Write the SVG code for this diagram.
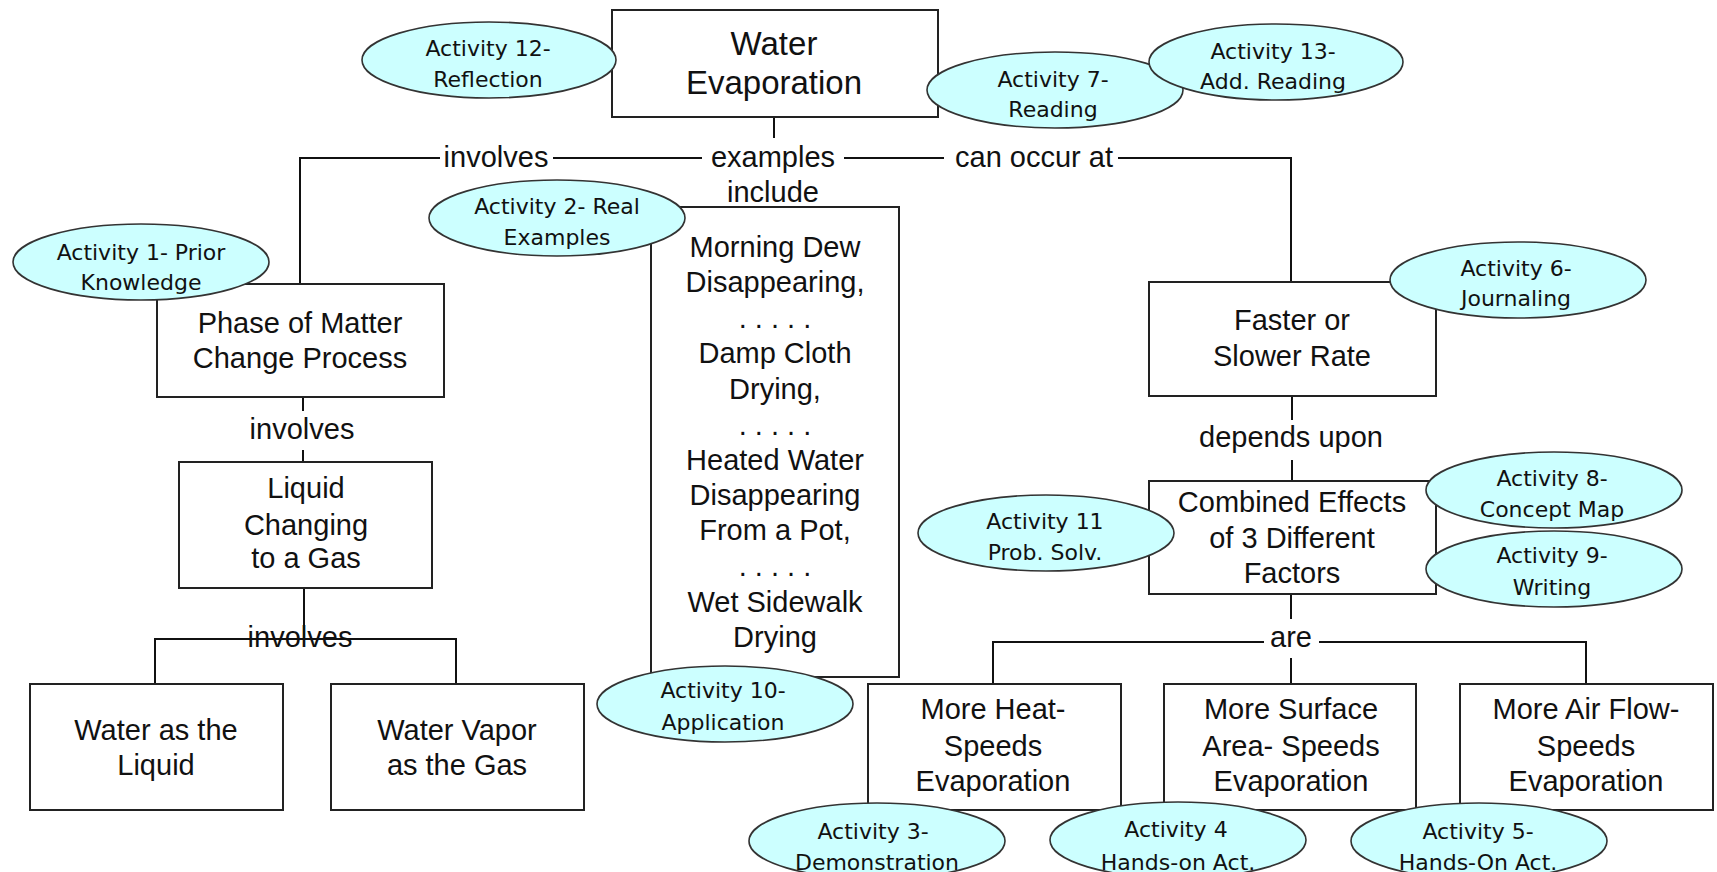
<svg xmlns="http://www.w3.org/2000/svg" width="1717" height="872" viewBox="0 0 1717 872">
<style>
.box{fill:#fff;stroke:#222;stroke-width:2}
.act{fill:#ccffff;stroke:#333;stroke-width:1.6}
.t{font-family:"Liberation Sans",Arial,sans-serif;font-size:29px;fill:#111;text-anchor:middle}
.ttl{font-family:"Liberation Sans",Arial,sans-serif;font-size:33px;fill:#111;text-anchor:middle}
.a{font-family:"DejaVu Sans",sans-serif;font-size:22px;fill:#111;text-anchor:middle}
.ln{stroke:#111;stroke-width:2;fill:none}
</style>
<rect width="1717" height="872" fill="#fff"/>
<g id="connectors">
<path class="ln" d="M774 117V138"/>
<path class="ln" d="M300 284V158H440M553 158H702M844 158H944M1118 158H1291V282"/>
<path class="ln" d="M303 397V411M303 450V462"/>
<path class="ln" d="M304 588V639M155 684V639H425M304 639H456V684"/>
<path class="ln" d="M1292 396V420M1292 460V481"/>
<path class="ln" d="M1291 594V619M993 684V642H1264M1319 642H1586V684M1291 658V684"/>
</g>
<g id="title"><rect class="box" x="612" y="10" width="326" height="107"/><text class="ttl" x="774" y="55">Water</text><text class="ttl" x="774" y="94">Evaporation</text></g>
<g id="lbl-involves1"><text class="t" x="496" y="167">involves</text></g>
<g id="lbl-examples"><text class="t" x="773" y="167">examples</text><text class="t" x="773" y="202">include</text></g>
<g id="lbl-canoccur"><text class="t" x="1034" y="167">can occur at</text></g>
<g id="phase"><rect class="box" x="157" y="284" width="287" height="113"/><text class="t" x="300" y="333">Phase of Matter</text><text class="t" x="300" y="368">Change Process</text></g>
<g id="lbl-involves2"><text class="t" x="302" y="439">involves</text></g>
<g id="liquid"><rect class="box" x="179" y="462" width="253" height="126"/><text class="t" x="306" y="498">Liquid</text><text class="t" x="306" y="535">Changing</text><text class="t" x="306" y="568">to a Gas</text></g>
<g id="lbl-involves3"><text class="t" x="300" y="647">involves</text></g>
<g id="water-liquid"><rect class="box" x="30" y="684" width="253" height="126"/><text class="t" x="156" y="740">Water as the</text><text class="t" x="156" y="775">Liquid</text></g>
<g id="water-vapor"><rect class="box" x="331" y="684" width="253" height="126"/><text class="t" x="457" y="740">Water Vapor</text><text class="t" x="457" y="775">as the Gas</text></g>
<g id="examples"><rect class="box" x="651" y="207" width="248" height="470"/>
<text class="t" x="775" y="257">Morning Dew</text><text class="t" x="775" y="292">Disappearing,</text><text class="t" x="775" y="328">. . . . .</text>
<text class="t" x="775" y="363">Damp Cloth</text><text class="t" x="775" y="399">Drying,</text><text class="t" x="775" y="435">. . . . .</text>
<text class="t" x="775" y="470">Heated Water</text><text class="t" x="775" y="505">Disappearing</text><text class="t" x="775" y="540">From a Pot,</text><text class="t" x="775" y="576">. . . . .</text>
<text class="t" x="775" y="612">Wet Sidewalk</text><text class="t" x="775" y="647">Drying</text></g>
<g id="rate"><rect class="box" x="1149" y="282" width="287" height="114"/><text class="t" x="1292" y="330">Faster or</text><text class="t" x="1292" y="366">Slower Rate</text></g>
<g id="lbl-depends"><text class="t" x="1291" y="447">depends upon</text></g>
<g id="combined"><rect class="box" x="1149" y="481" width="287" height="113"/><text class="t" x="1292" y="512">Combined Effects</text><text class="t" x="1292" y="548">of 3 Different</text><text class="t" x="1292" y="583">Factors</text></g>
<g id="lbl-are"><text class="t" x="1291" y="647">are</text></g>
<g id="heat"><rect class="box" x="868" y="684" width="253" height="126"/><text class="t" x="993" y="719">More Heat-</text><text class="t" x="993" y="756">Speeds</text><text class="t" x="993" y="791">Evaporation</text></g>
<g id="surface"><rect class="box" x="1164" y="684" width="252" height="126"/><text class="t" x="1291" y="719">More Surface</text><text class="t" x="1291" y="756">Area- Speeds</text><text class="t" x="1291" y="791">Evaporation</text></g>
<g id="airflow"><rect class="box" x="1460" y="684" width="253" height="126"/><text class="t" x="1586" y="719">More Air Flow-</text><text class="t" x="1586" y="756">Speeds</text><text class="t" x="1586" y="791">Evaporation</text></g>
<g id="act12"><ellipse class="act" cx="489" cy="60" rx="127" ry="38"/><text class="a" x="488" y="56">Activity 12-</text><text class="a" x="488" y="87">Reflection</text></g>
<g id="act7"><ellipse class="act" cx="1055" cy="90" rx="128" ry="38"/><text class="a" x="1053" y="87">Activity 7-</text><text class="a" x="1053" y="117">Reading</text></g>
<g id="act13"><ellipse class="act" cx="1276" cy="62" rx="127" ry="38"/><text class="a" x="1273" y="59">Activity 13-</text><text class="a" x="1273" y="89">Add. Reading</text></g>
<g id="act2"><ellipse class="act" cx="557" cy="218" rx="128" ry="38"/><text class="a" x="557" y="214">Activity 2- Real</text><text class="a" x="557" y="245">Examples</text></g>
<g id="act1"><ellipse class="act" cx="141" cy="262" rx="128" ry="38"/><text class="a" x="141" y="260">Activity 1- Prior</text><text class="a" x="141" y="290">Knowledge</text></g>
<g id="act6"><ellipse class="act" cx="1518" cy="280" rx="128" ry="38"/><text class="a" x="1516" y="276">Activity 6-</text><text class="a" x="1516" y="306">Journaling</text></g>
<g id="act10"><ellipse class="act" cx="725" cy="704" rx="128" ry="38"/><text class="a" x="723" y="698">Activity 10-</text><text class="a" x="723" y="730">Application</text></g>
<g id="act11"><ellipse class="act" cx="1046" cy="533" rx="128" ry="38"/><text class="a" x="1045" y="529">Activity 11</text><text class="a" x="1045" y="560">Prob. Solv.</text></g>
<g id="act8"><ellipse class="act" cx="1554" cy="490" rx="128" ry="38"/><text class="a" x="1552" y="486">Activity 8-</text><text class="a" x="1552" y="517">Concept Map</text></g>
<g id="act9"><ellipse class="act" cx="1554" cy="569" rx="128" ry="38"/><text class="a" x="1552" y="563">Activity 9-</text><text class="a" x="1552" y="595">Writing</text></g>
<g id="act3"><ellipse class="act" cx="877" cy="841" rx="128" ry="38"/><text class="a" x="873" y="839">Activity 3-</text><text class="a" x="877" y="870">Demonstration</text></g>
<g id="act4"><ellipse class="act" cx="1178" cy="840" rx="128" ry="38"/><text class="a" x="1176" y="837">Activity 4</text><text class="a" x="1178" y="870">Hands-on Act.</text></g>
<g id="act5"><ellipse class="act" cx="1479" cy="841" rx="128" ry="38"/><text class="a" x="1478" y="839">Activity 5-</text><text class="a" x="1478" y="870">Hands-On Act.</text></g>
</svg>
